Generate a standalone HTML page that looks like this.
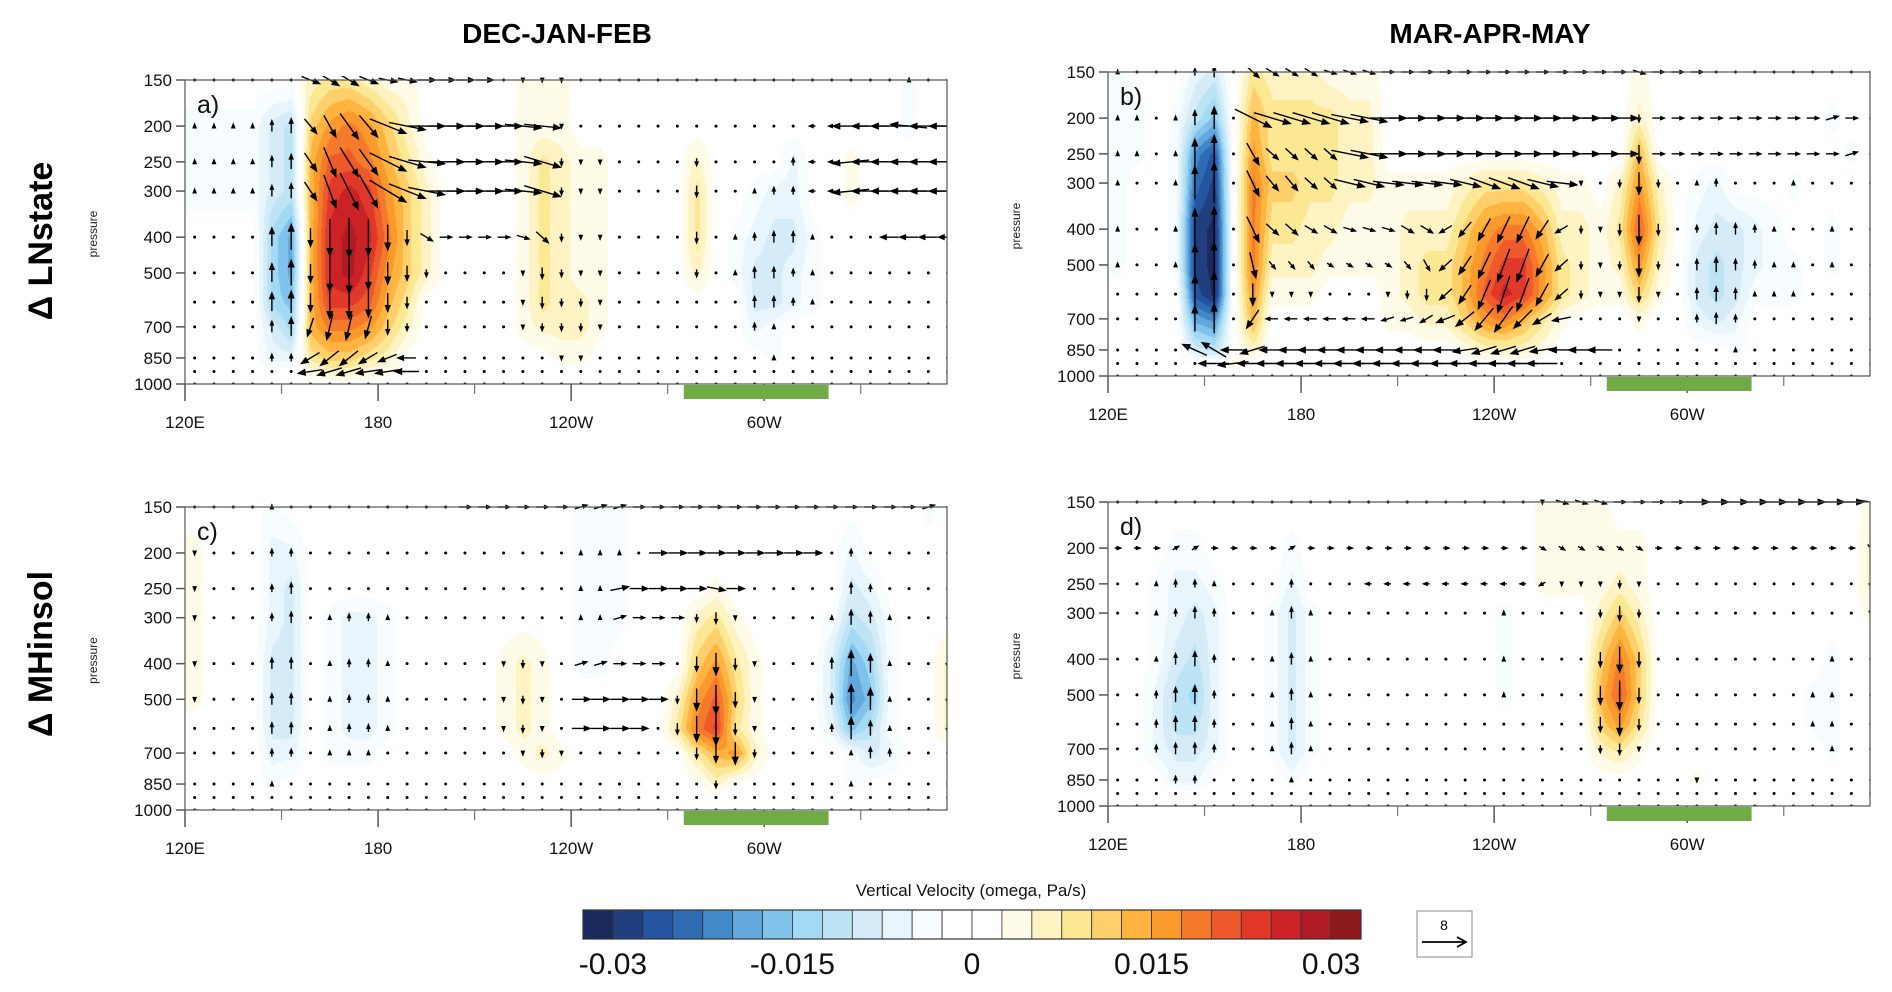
<!DOCTYPE html>
<html><head><meta charset="utf-8"><style>
html,body{margin:0;padding:0;background:#fff;}
#root{position:relative;width:1892px;height:992px;overflow:hidden;font-family:"Liberation Sans",sans-serif;}
canvas{position:absolute;}
svg{position:absolute;left:0;top:0;}
</style></head><body>
<div id="root">
<canvas id="cv-a" width="762" height="304" style="left:185px;top:80px"></canvas>
<canvas id="cv-b" width="762" height="304" style="left:1108px;top:72px"></canvas>
<canvas id="cv-c" width="762" height="303" style="left:185px;top:507px"></canvas>
<canvas id="cv-d" width="762" height="304" style="left:1108px;top:502px"></canvas>
<svg id="ov" width="1892" height="992"></svg>
</div>
<script>
// ---- data ----
const LEVELS=[150,200,250,300,400,500,600,700,850,925,1000];
const XTICK_LON=[0,60,120,180];
const XTICK_LABELS=["120E","180","120W","60W"];
const XMINOR_LON=[30,90,150,210];
const PTICKS=[150,200,250,300,400,500,700,850,1000];
const BOX_LON=[155,200];
const CB_LABELS=["-0.03","-0.015","0","0.015","0.03"];
const CB_LABEL_BOUNDS=[1,7,13,19,25];
const COLORS=["#1b2a5c","#213f7f","#2554a0","#2f6cb4","#4289c8","#63a8dc","#80c2ea","#a2daf5","#bde4f5","#d5ecf8","#e8f5fc","#f7fcff","#ffffff","#ffffff","#fffbe9","#fff3c4","#fce793","#fecf6a","#feb43f","#fb9a2c","#f67a2b","#ef5a2c","#e0392a","#cb2228","#b01c23","#8f1a1c"];
// omega (units of 0.0025 Pa/s), rows = LEVELS, 40 columns every 6 deg from 120E
const OMEGA_A=[
"......233211.....111.................a..",
"aaaacd467642.....111.................a..",
"aaaacd5887531....13211....2....b..1.....",
"aaaacd59A9642....13211....3..abb..1.....",
"....eg5ABA742....13211....3.abcca.......",
"....eg5AB9642....13211....2.accba.......",
"....ef599853.....13221.......ccba.......",
"....ce577642.....12221.......ba.........",
"....bb34432........11.........a.........",
"......12211.............................",
""];
const U_A=[
"......3333333333........................",
"......2233666666666.............aaffffff",
"......2233666666666.............aaffffff",
"......2233666666666.............aaffffff",
"............2222222.................cccc",
"","",
"......aaaa",
"......cccccc",
"......dddddd",
""];
const OMEGA_B=[
"a...bc.3222111.............1............",
"aa.adf.5333322.............2.........a..",
"aa.ahj.6333322.............5..........a.",
"a..aik.744332211112333211.262.ab...a....",
"a..akl.7332211122246775221383.bccba..a..",
"a..akl.7222111123357996321262.cdcbaa.a..",
"....jl.6111...123358A96321141.cdcaaa....",
"....gh.5......1122467531...1..bcb.......",
"....cd.2..........12221.........a.......",
"......1.................................",
""];
const U_B=[
".......222222222222222222222222.........",
".......66666666666666666666.22222222222",
".......22222666666666666666.22222222222",
".......22222555555555555...............",
".......2222222222bbbbbbb................",
".......1111111111bbbbbbb................",
".................bbbbbbb................",
".......bbbbbbbbbbccccccc................",
"....dddddddddddddddddddddd..............",
".....eeeeeeeeeeeeeeeeee.................",
""];
const OMEGA_C=[
"....a...............aaa...............a.",
"1...bb..............aaa...........b.....",
"1...bc..............aaa....1......cb....",
"1...bc.abba.........aaa...231....adca...",
"1...cc.abba.....121.aa....4631...cgea..2",
"1...cc.abba.....121......26841...chfa..2",
"....cc.abba.....121......37931...bfda..2",
"....bb.aaa.......121......3562....acb...",
"....a......................2......a.....",
"",""];
const U_C=[
"..............2222222222222222222222222",
"........................333333333.......",
"......................3333333...........",
"......................2222..............",
"....................22222...............",
"....................33333...............",
"....................3333................",
"","","",""];
const OMEGA_D=[
"......................1111.............1",
"...aa....a............111111...........2",
"..abba...b............111121...........2",
"..abcb..aca.........a....242...........1",
"..acdb..aca.........a....474.........a..",
"..bdeb..aca.........a....584........aa..",
"..bddb..aca..............463........aa..",
"..bccb..aca..............231.........a..",
"...bb....a....................1.........",
"",""];
const U_D=[
".......................22222224444444444",
"1111111111111111111111111111111111111111",
".............aaaaaaaaaa.................",
"","","","","","","",""];

// ---- layout ----
const PANELS=[
 {key:'a',x:185,y:80,w:762,h:304,om:OMEGA_A,u:U_A,letter:'a)'},
 {key:'b',x:1108,y:72,w:762,h:304,om:OMEGA_B,u:U_B,letter:'b)'},
 {key:'c',x:185,y:507,w:762,h:303,om:OMEGA_C,u:U_C,letter:'c)'},
 {key:'d',x:1108,y:502,w:762,h:304,om:OMEGA_D,u:U_D,letter:'d)'}];
const NC=40, PPD=762/236.8;
function cv(ch){
 if(ch===undefined||ch==='.'||ch===' ')return 0;
 if(ch>='1'&&ch<='9')return +ch;
 if(ch>='A'&&ch<='L')return 10+ch.charCodeAt(0)-65;
 if(ch>='a'&&ch<='l')return -(ch.charCodeAt(0)-96);
 return 0;}
function parse(rows){return LEVELS.map((_,r)=>{const s=rows[r]||"";const a=[];for(let c=0;c<NC;c++)a.push(cv(s[c]));return a;});}
const LN=Math.log(1000/150);
function yOf(p,P){return P.h-Math.log(1000/p)/LN*P.h;}
function xOf(lon){return lon*PPD;}
function colorIdx(v){let n=v>0?Math.floor(v+0.4):v<0?-Math.floor(-v+0.4):0;let k=n>=0?13+n:12+n;return Math.max(0,Math.min(25,k));}
function hex(h){return [parseInt(h.substr(1,2),16),parseInt(h.substr(3,2),16),parseInt(h.substr(5,2),16)];}
const RGB=COLORS.map(hex);
const NS="http://www.w3.org/2000/svg";
const ov=document.getElementById('ov');
function el(tag,attrs,parent,txt){const e=document.createElementNS(NS,tag);for(const k in attrs)e.setAttribute(k,attrs[k]);if(txt!==undefined)e.textContent=txt;(parent||ov).appendChild(e);return e;}
const defs=el('defs',{});

PANELS.forEach(P=>{
 const G=parse(P.om), U=parse(P.u);
 const rowY=LEVELS.map(p=>yOf(p,P));
 const ctx=document.getElementById('cv-'+P.key).getContext('2d');
 const img=ctx.createImageData(P.w,P.h);
 for(let py=0;py<P.h;py++){
  let r=0;while(r<LEVELS.length-2&&py>rowY[r+1])r++;
  let ty=(py-rowY[r])/(rowY[r+1]-rowY[r]);ty=Math.max(0,Math.min(1,ty));
  for(let px=0;px<P.w;px++){
   let cf=(px/PPD-3)/6;cf=Math.max(0,Math.min(NC-1,cf));
   const c0=Math.min(NC-2,Math.floor(cf)),tx=cf-c0;
   const v=(G[r][c0]*(1-tx)+G[r][c0+1]*tx)*(1-ty)+(G[r+1][c0]*(1-tx)+G[r+1][c0+1]*tx)*ty;
   const col=RGB[colorIdx(v)];const i=(py*P.w+px)*4;
   img.data[i]=col[0];img.data[i+1]=col[1];img.data[i+2]=col[2];img.data[i+3]=255;}}
 ctx.putImageData(img,0,0);
 const cp=el('clipPath',{id:'clip-'+P.key},defs);
 el('rect',{x:0,y:-4,width:P.w,height:P.h+4},cp);
 const g=el('g',{transform:`translate(${P.x},${P.y})`});
 
 
 const ag=el('g',{'clip-path':`url(#clip-${P.key})`},g);
 
 
 for(let r=0;r<LEVELS.length;r++)for(let c=0;c<NC;c++){
  const x0=xOf(3+6*c),y0=rowY[r];
  const dx=U[r][c]*6,dy=G[r][c]*3.6;
  const L=Math.hypot(dx,dy);
  if(L<0.5){el('circle',{cx:x0,cy:y0,r:1.5,fill:'#000'},ag);continue;}
  const x1=x0-dx/2,y1=y0-dy/2,x2=x0+dx/2,y2=y0+dy/2;
  const ux=dx/L,uy=dy/L,hs=Math.min(6.5,Math.max(3.5,L*0.3));
  const a=el('path',{d:`M${x1},${y1}L${x2},${y2}M${x2-ux*hs-uy*hs*0.4},${y2-uy*hs+ux*hs*0.4}L${x2},${y2}L${x2-ux*hs+uy*hs*0.4},${y2-uy*hs-ux*hs*0.4}Z`,stroke:'#000','stroke-width':1.4,fill:'#000'},ag);
  
  
 }
 const fr=el('rect',{x:0,y:0,width:P.w,height:P.h,fill:'none',stroke:'#555','stroke-width':1.2},g);
 
 
 PTICKS.forEach(p=>{const y=yOf(p,P);
  el('line',{x1:-9,x2:0,y1:y,y2:y,stroke:'#555','stroke-width':1.5},g);
  const t=el('text',{x:-13,y:y+6,'text-anchor':'end','font-size':17,fill:'#111'},g,String(p));
  
  });
 XTICK_LON.forEach((lon,i)=>{const x=xOf(lon);
  el('line',{x1:x,x2:x,y1:P.h,y2:P.h+17,stroke:'#555','stroke-width':1.5},g);
  const t=el('text',{x:x,y:P.h+44,'text-anchor':'middle','font-size':17,fill:'#111'},g,XTICK_LABELS[i]);
  
  });
 XMINOR_LON.forEach(lon=>{const x=xOf(lon);el('line',{x1:x,x2:x,y1:P.h,y2:P.h+10,stroke:'#777','stroke-width':1.2},g);});
 const gb=el('rect',{x:xOf(BOX_LON[0]),y:P.h+1,width:xOf(BOX_LON[1])-xOf(BOX_LON[0]),height:14,fill:'#6fac46'},g);
 
 
 const lt=el('text',{x:12,y:33,'font-size':25,fill:'#111'},g,P.letter);
 
 
 const pl=el('text',{transform:`translate(${-88},${P.h/2+2}) rotate(-90)`,'text-anchor':'middle','font-size':12,fill:'#222'},g,'pressure');
 
 
});
let t;
t=el('text',{x:557,y:43,'text-anchor':'middle','font-size':28,'font-weight':'bold'},ov,'DEC-JAN-FEB');


t=el('text',{x:1490,y:43,'text-anchor':'middle','font-size':28,'font-weight':'bold'},ov,'MAR-APR-MAY');


t=el('text',{transform:'translate(52,241) rotate(-90)','text-anchor':'middle','font-size':34,'font-weight':'bold'},ov,'Δ LNstate');


t=el('text',{transform:'translate(52,654) rotate(-90)','text-anchor':'middle','font-size':34,'font-weight':'bold'},ov,'Δ MHinsol');


const CBX=583,CBY=910,CBW=778,CBH=29,bw=CBW/26;
const cb=el('g',{});


COLORS.forEach((c,i)=>{const r=el('rect',{x:CBX+i*bw,y:CBY,width:bw,height:CBH,fill:c,stroke:'#333','stroke-width':0.8},cb);
 
 });
el('rect',{x:CBX,y:CBY,width:CBW,height:CBH,fill:'none',stroke:'#333','stroke-width':1.2},cb);
CB_LABELS.forEach((l,i)=>{const tt=el('text',{x:CBX+CB_LABEL_BOUNDS[i]*bw,y:CBY+CBH+35,'text-anchor':'middle','font-size':30,fill:'#111'},cb,l);
 
 });
t=el('text',{x:971,y:896,'text-anchor':'middle','font-size':17,fill:'#111'},ov,'Vertical Velocity (omega, Pa/s)');


const rv=el('g',{});


el('rect',{x:1417,y:911,width:55,height:46,fill:'#fff',stroke:'#888','stroke-width':1},rv);
el('text',{x:1444,y:930,'text-anchor':'middle','font-size':14},rv,'8');
el('path',{d:'M1422,942L1465,942M1457,937L1466,942L1457,947',stroke:'#000','stroke-width':1.8,fill:'none'},rv);
</script>
</body></html>
